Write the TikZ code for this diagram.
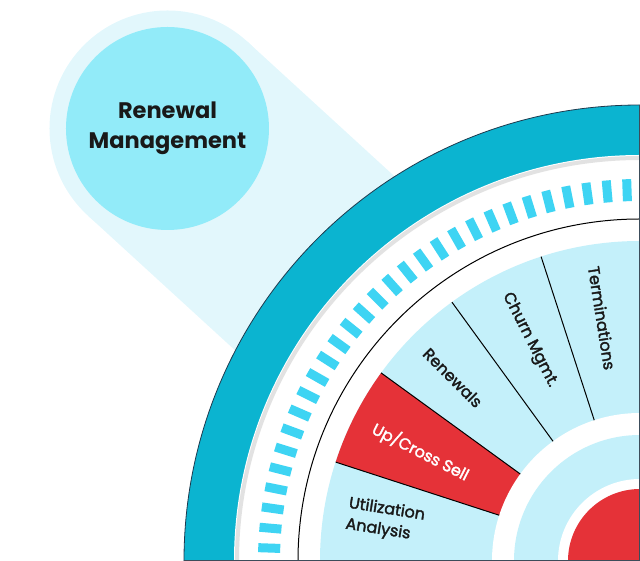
\documentclass[tikz,border=0pt]{standalone}
\usepackage{fontspec}
\setmainfont{Poppins}
\newfontfamily\segfont{Poppins}[FakeBold=2]
\usepackage{xcolor}
\definecolor{halo}{RGB}{226,247,252}
\definecolor{focus}{RGB}{146,235,249}
\definecolor{rim}{RGB}{11,180,208}
\definecolor{rimline}{RGB}{30,58,78}
\definecolor{tick}{RGB}{62,212,243}
\definecolor{segment}{RGB}{196,240,250}
\definecolor{upsell}{RGB}{229,50,56}
\definecolor{rimshadow}{RGB}{226,226,226}
\definecolor{edge}{RGB}{60,76,90}
\definecolor{ink}{RGB}{25,25,25}
\tikzstyle{focusnode}=[circle, fill=focus, minimum size=203pt, inner sep=0pt, align=center, text=ink, font=\bfseries\fontsize{22.5}{30}\selectfont]
\tikzstyle{segtext}=[text=ink, font=\segfont\fontsize{16}{21}\selectfont]
\tikzstyle{divider}=[line width=1pt, black]

\begin{document}
\begin{tikzpicture}[x=1pt,y=1pt]
  \useasboundingbox (-640,0) rectangle (0,561);
  \clip (-640,0) rectangle (0,561);
  %% Highlight beam
  \fill[halo] (-392.8,519.5) -- (79.7,87.0) -- (-79.7,-87.0) -- (-552.2,345.5) -- cycle;
  \fill[halo] (-472.5,432.5) circle (118pt);
  \draw (-472.5,432.5) node[focusnode] (focus) {Renewal\\Management};

  %% Outer rim
  \fill[rim] (0,0) circle (456pt);
  \draw[rimline, line width=0.8pt] (0,0) circle (456pt);
  \fill[white] (0,0) circle (406pt);
  \draw[rimshadow, line width=4pt] (0,0) circle (403pt);

  %% Ticks
  \foreach \i in {0,...,28}
    \draw[tick, line width=9pt] ({92+\i*3.0714}:360) -- ({92+\i*3.0714}:382);
  \draw[line width=1pt] (0,0) circle (342pt);

  %% Segments
  \fill[segment] (0,0) circle (320pt);
  \fill[upsell] (0,0) -- (144:320) arc[start angle=144, end angle=162, radius=320pt] -- cycle;
  \fill[white] (0,0) circle (148pt);
  \foreach \a in {108,126,144,162}
    \draw[divider] (\a:148) -- (\a:320);

  \draw (98.9:246) node[segtext, rotate=-81] (terminations) {Terminations};
  \draw (116.5:247) node[segtext, rotate=-63] (churn) {Churn Mgmt.};
  \draw (135.6:262) node[segtext, rotate=-45] (renewals) {Renewals};
  \draw (153.6:245) node[segtext, rotate=-27, text=white] (crosssell) {Up/Cross Sell};
  \draw (170.9:258) node[segtext, rotate=-9, align=left] (utilization) {Utilization\\Analysis};

  %% Hub
  \fill[segment] (0,0) circle (126pt);
  \fill[white] (0,0) circle (82pt);
  \fill[upsell] (0,0) circle (72pt);

  %% Frame edges
  \draw[edge, line width=2pt] (-456,0) -- (0,0) -- (0,456);
\end{tikzpicture}
\end{document}
